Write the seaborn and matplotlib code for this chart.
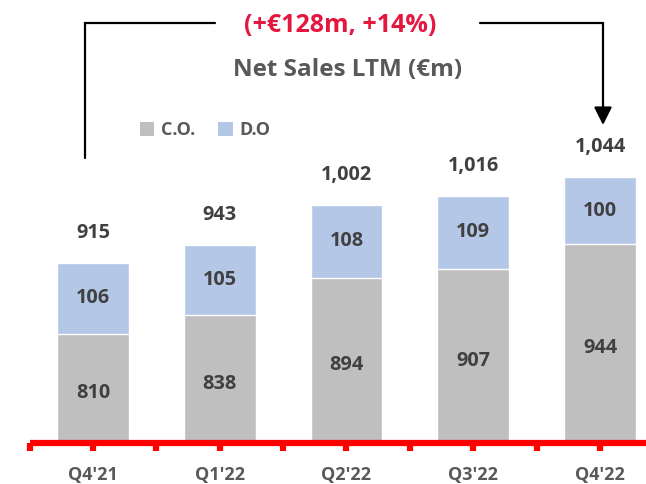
import matplotlib
matplotlib.use("Agg")
import matplotlib.pyplot as plt
from matplotlib.patches import Patch
from matplotlib.lines import Line2D
from matplotlib.ticker import FixedLocator
import seaborn as sns
import pandas as pd

categories = ["Q4'21", "Q1'22", "Q2'22", "Q3'22", "Q4'22"]
co_values = [810, 838, 894, 907, 944]
do_values = [106, 105, 108, 109, 100]
total_labels = ["915", "943", "1,002", "1,016", "1,044"]
legend_labels = ["C.O.", "D.O"]
title_text = "Net Sales LTM (€m)"
change_text = "(+€128m, +14%)"

CO_COLOR = "#BFBFBF"
DO_COLOR = "#B4C7E7"
TEXT_DARK = "#404040"
TEXT_GREY = "#595959"
RED = "#E5173F"

sns.set_theme(style="white")
plt.rcParams["font.family"] = ["Open Sans", "DejaVu Sans"]

df = pd.DataFrame({
    "cat": categories,
    "co": co_values,
    "do": do_values,
})
df["total"] = df["co"] + df["do"]

W, H = 646, 484
fig = plt.figure(figsize=(W / 100, H / 100), dpi=100)
ax_left = 29.6 / W
ax_w = 633.8 / W
ax_bottom = (H - 443) / H
ax_h = 443 / H
ax = fig.add_axes([ax_left, ax_bottom, ax_w, ax_h])

sns.barplot(data=df, x="cat", y="total", color=DO_COLOR, width=0.568,
            saturation=1, ax=ax, errorbar=None)
sns.barplot(data=df, x="cat", y="co", color=CO_COLOR, width=0.568,
            saturation=1, ax=ax, errorbar=None)

y0 = 647
ax.set_ylim(y0, y0 + 443 / 0.67)
ax.set_xlim(-0.5, 4.5)
ax.set_xlabel("")
ax.set_ylabel("")
ax.set_yticks([])

for s in ["top", "right", "left"]:
    ax.spines[s].set_visible(False)
ax.spines["bottom"].set_color("#FF0000")
ax.spines["bottom"].set_linewidth(4.5)
ax.spines["bottom"].set_capstyle("butt")

FS_VAL = 14.3
ax.set_xticks(range(len(categories)))
ax.set_xticklabels(categories, fontsize=13, fontweight="bold", color=TEXT_GREY)
ax.xaxis.set_minor_locator(FixedLocator([i - 0.5 for i in range(len(categories) + 1)]))
ax.tick_params(axis="x", which="both", direction="out", length=5.5, width=4.5,
               color="#FF0000", bottom=True, pad=11)

for i in range(len(categories)):
    co = co_values[i]
    do = do_values[i]
    ax.annotate(f"{co}", xy=(i, (y0 + co) / 2), xytext=(0, -3.5),
                textcoords="offset points", ha="center", va="center",
                fontsize=FS_VAL, fontweight="bold", color=TEXT_DARK)
    ax.text(i, co + do / 2, f"{do}", ha="center", va="center",
            fontsize=FS_VAL, fontweight="bold", color=TEXT_DARK)
    ax.annotate(total_labels[i], xy=(i, co + do), xytext=(0, 21.5),
                textcoords="offset points", ha="center", va="center",
                fontsize=FS_VAL, fontweight="bold", color=TEXT_DARK)

handles = [Patch(facecolor=CO_COLOR, edgecolor="none"),
           Patch(facecolor=DO_COLOR, edgecolor="none")]
fig.legend(handles, legend_labels, loc="center left",
           bbox_to_anchor=(140 / W, 1 - 130 / H), bbox_transform=fig.transFigure,
           ncol=2, frameon=False, borderpad=0, borderaxespad=0,
           handlelength=0.8, handleheight=0.8, handletextpad=0.35,
           columnspacing=1.3,
           prop={"size": 13, "weight": "bold"}, labelcolor=TEXT_GREY)

fig.text(340 / W, 1 - 25.5 / H, change_text, ha="center", va="center",
         fontsize=18, fontweight="bold", color=RED)
fig.text(348 / W, 1 - 70 / H, title_text, ha="center", va="center",
         fontsize=17.5, fontweight="bold", color=TEXT_GREY)

def fx(px):
    return px / W

def fy(py):
    return 1 - py / H

lw = 1.6
fig.add_artist(Line2D([fx(85), fx(85), fx(215)], [fy(158), fy(23), fy(23)],
                      transform=fig.transFigure, color="black", lw=lw,
                      solid_joinstyle="miter"))
fig.add_artist(Line2D([fx(480), fx(603)], [fy(23), fy(23)],
                      transform=fig.transFigure, color="black", lw=lw,
                      solid_joinstyle="miter"))
ax.annotate("", xy=(fx(603), fy(125)), xytext=(fx(603), fy(23)),
            xycoords="figure fraction", textcoords="figure fraction",
            arrowprops=dict(arrowstyle="-|>,head_length=0.4,head_width=0.2",
                            mutation_scale=27, lw=lw, color="black",
                            shrinkA=0, shrinkB=0))

fig.savefig("out.png", dpi=100)
